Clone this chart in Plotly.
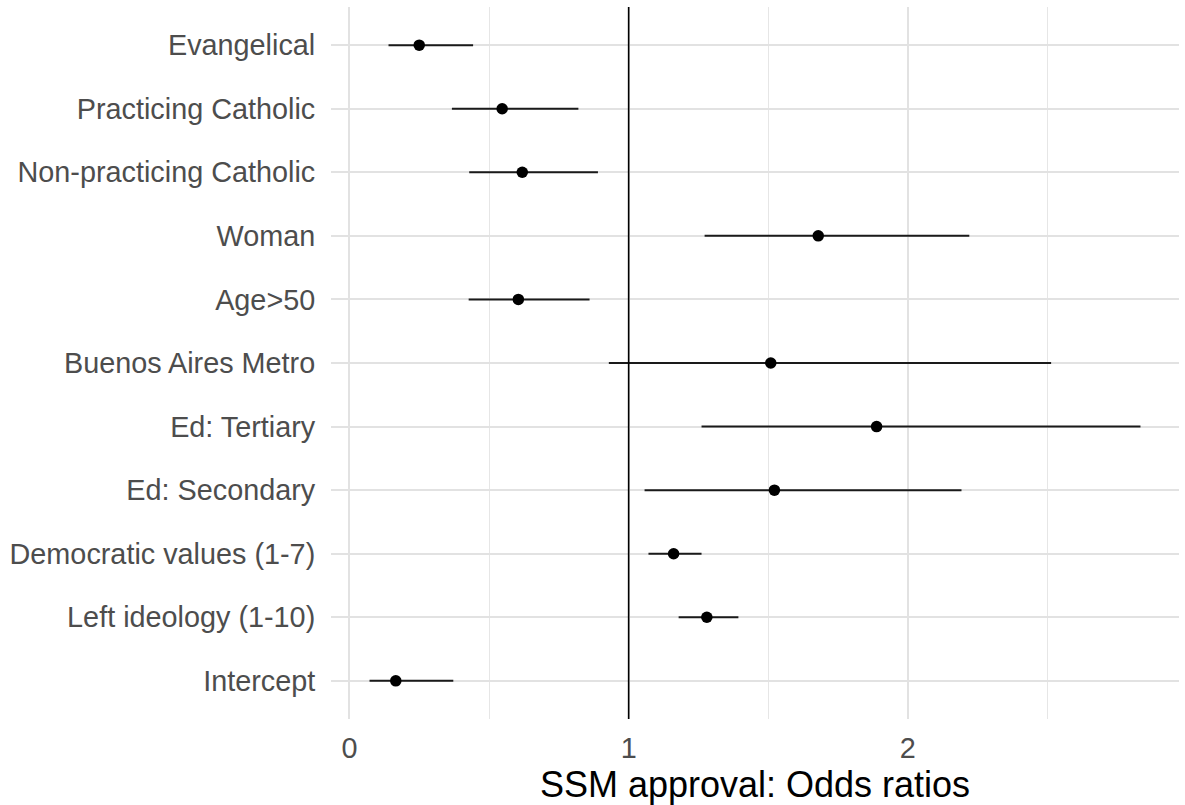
import plotly.graph_objects as go

terms = ["Evangelical", "Practicing Catholic", "Non-practicing Catholic", "Woman",
         "Age>50", "Buenos Aires Metro", "Ed: Tertiary", "Ed: Secondary",
         "Democratic values (1-7)", "Left ideology (1-10)", "Intercept"]
odds = [0.250, 0.547, 0.619, 1.679, 0.605, 1.509, 1.888, 1.522, 1.161, 1.280, 0.166]
conf_low = [0.140, 0.367, 0.429, 1.272, 0.427, 0.929, 1.261, 1.057, 1.071, 1.179, 0.072]
conf_high = [0.443, 0.820, 0.890, 2.220, 0.860, 2.513, 2.833, 2.192, 1.261, 1.393, 0.372]
x_ticks = [0, 1, 2]
ref_value = 1

err_plus = [h - o for h, o in zip(conf_high, odds)]
err_minus = [o - l for o, l in zip(odds, conf_low)]

fig = go.Figure()
fig.add_trace(go.Scatter(
    x=odds, y=terms, mode="markers",
    marker=dict(color="black", size=11.5),
    error_x=dict(type="data", symmetric=False, array=err_plus, arrayminus=err_minus,
                 width=0, thickness=2, color="#1a1a1a"),
    showlegend=False, cliponaxis=False,
))

fig.add_shape(type="line", x0=ref_value, x1=ref_value, xref="x", y0=0, y1=1, yref="paper",
              line=dict(color="black", width=1.6))

font_family = "Liberation Sans, Arial, sans-serif"
fig.update_layout(
    width=1185, height=805,
    margin=dict(l=331, r=6, t=7, b=86),
    plot_bgcolor="white", paper_bgcolor="white",
    font=dict(family=font_family),
    xaxis=dict(
        range=[-0.066, 2.971], tickvals=x_ticks, ticktext=[str(v) for v in x_ticks],
        showgrid=True, gridcolor="#e2e2e2", gridwidth=2.2, zeroline=False,
        ticks="outside", ticklen=3, tickcolor="rgba(0,0,0,0)",
        tickfont=dict(size=28.8, color="#4d4d4d"),
        minor=dict(tickvals=[0.5, 1.5, 2.5], showgrid=True, gridcolor="#e6e6e6", gridwidth=1.3),
        title=dict(text="SSM approval: Odds ratios", font=dict(size=36, color="black"), standoff=8),
        showline=False,
    ),
    yaxis=dict(
        categoryorder="array", categoryarray=terms[::-1],
        range=[-0.6, 10.6],
        showgrid=True, gridcolor="#e2e2e2", gridwidth=2.2, zeroline=False,
        ticks="outside", ticklen=9, tickcolor="rgba(0,0,0,0)",
        tickfont=dict(size=28.8, color="#4d4d4d"),
        showline=False,
    ),
)

fig.write_html("out.html")
